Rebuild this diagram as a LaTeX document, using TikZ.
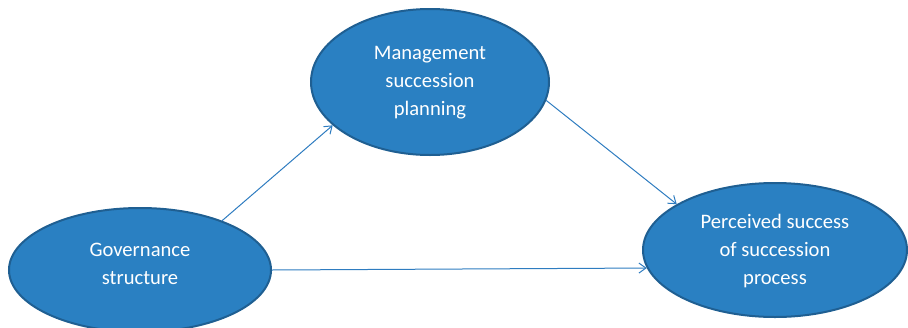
\documentclass[tikz,border=0pt]{standalone}
\usepackage{fontspec}
\setmainfont{Carlito}
\usetikzlibrary{shapes.geometric,arrows.meta}
\definecolor{fillblue}{HTML}{2A80C2}
\definecolor{edgeblue}{HTML}{1F5F92}
\definecolor{lineblue}{HTML}{2E7CC0}
\tikzset{
  oval/.style={ellipse, draw=edgeblue, line width=2pt, fill=fillblue, inner sep=0pt},
  ovaltext/.style={text=white, align=center, inner sep=0pt, font=\fontsize{20.6}{28}\selectfont},
  link/.style={draw=lineblue, line width=1pt, -{Straight Barb[length=7pt,width=10pt,line width=1pt]}}
}
\begin{document}
\begin{tikzpicture}[x=1pt,y=-1pt]
\useasboundingbox (0,0) rectangle (908,327);
\clip (0,0) rectangle (908,327);
\node[oval, minimum width=262pt, minimum height=124pt] (gov) at (140,270) {};
\node[ovaltext] (govtext) at (140,264) {Governance\\structure};
\node[oval, minimum width=238pt, minimum height=146pt] (mgmt) at (430,82) {};
\node[ovaltext] (mgmttext) at (430,83) {Management\\succession\\planning};
\node[oval, minimum width=264pt, minimum height=134pt] (perc) at (775,250) {};
\node[ovaltext] (perctext) at (775,251) {Perceived success\\of succession\\process};
\draw[link] (gov.31) -- (mgmt.204);
\draw[link] (gov.0) -- (perc.188);
\draw[link] (mgmt.351) -- (perc.155);
\end{tikzpicture}
\end{document}
